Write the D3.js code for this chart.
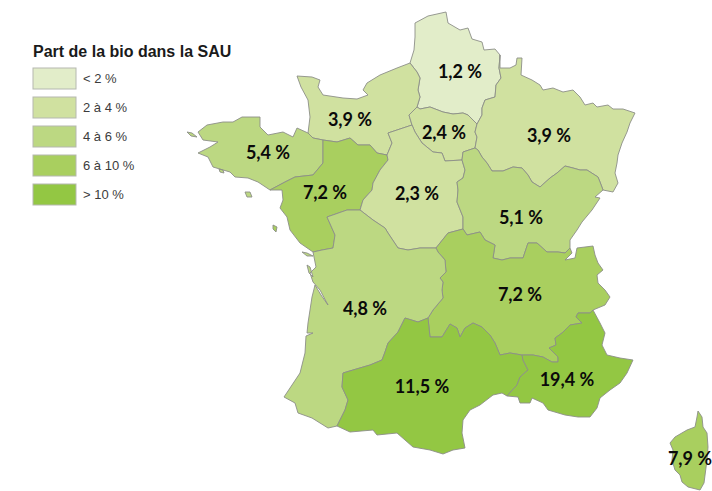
<!DOCTYPE html>
<html>
<head>
<meta charset="utf-8">
<script src="https://d3js.org/d3.v7.min.js"></script>
<style>
  html, body { margin: 0; padding: 0; background: #fff; overflow: hidden; }
</style>
</head>
<body>
<script>
// data
var legendTitle = "Part de la bio dans la SAU";
var legendLabels = ["< 2 %", "2 à 4 %", "4 à 6 %", "6 à 10 %", "> 10 %"];
var classBreaks = [2, 4, 6, 10];
var classColors = ["#e2edc9", "#d0e1a0", "#bcd882", "#a9cf5f", "#93c743"];

var regions = ["Hauts-de-France", "Normandie", "Ile-de-France", "Grand Est", "Bretagne", "Pays de la Loire",
               "Centre-Val de Loire", "Bourgogne-Franche-Comte", "Auvergne-Rhone-Alpes", "Nouvelle-Aquitaine",
               "Occitanie", "PACA", "Corse"];
var shares = [1.2, 3.9, 2.4, 3.9, 5.4, 7.2, 2.3, 5.1, 7.2, 4.8, 11.5, 19.4, 7.9];
// label anchors, in map units
var anchors = [[460, 72], [350, 120], [444, 133], [549, 136], [268, 153], [325, 193], [417, 194],
               [521, 218], [520, 295], [365, 309], [422, 387], [567, 380], [690, 459]];

// borders, in map units, shared between neighbours
var arcs = {
  hdfCoast: [[410,63],[414,50],[415,37],[415,23],[428,16],[446,12],[448,23],[460,30],[468,28],[472,39],[482,42],[484,50],[495,49],[500,55]],
  hdfGe: [[500,55],[499,68],[501,78],[496,85],[495,97],[485,100],[482,108],[482,115],[477,124]],
  hdfIdf: [[477,124],[468,115],[463,113],[453,114],[443,112],[430,107],[420,109],[417,107]],
  hdfNor: [[417,107],[420,97],[418,90],[420,78],[417,72],[410,63]],
  geNorth: [[500,55],[500,68],[510,68],[516,65],[517,58],[522,58],[521,75],[532,80],[540,85],[543,90],[553,88],[563,92],[573,90],[580,97],[585,105],[593,103],[597,107],[608,105],[613,109],[623,109],[635,113],[630,123],[627,132],[622,143],[618,155],[617,163],[615,173],[618,183],[613,192],[603,190]],
  geBfc: [[603,190],[600,182],[598,177],[587,170],[580,170],[573,168],[565,166],[557,173],[550,178],[540,187],[532,182],[528,175],[522,168],[513,167],[503,171],[492,171],[487,163],[482,157],[478,150],[475,148]],
  geIdf: [[475,148],[477,137],[475,132],[477,124]],
  idfBfc: [[475,148],[463,152],[462,160]],
  idfCvl: [[462,160],[445,161],[442,153],[433,152],[422,143],[415,132],[412,125]],
  idfNor: [[412,125],[409,115],[417,107]],
  norCoast: [[410,63],[397,68],[380,75],[367,83],[363,90],[368,95],[357,99],[343,98],[323,95],[318,87],[320,80],[312,77],[297,76],[301,87],[308,100],[310,117],[308,133]],
  norBre: [[308,133],[313,138],[323,140]],
  norPdl: [[323,140],[337,142],[350,138],[358,145],[370,145],[377,153],[387,155]],
  norCvl: [[387,155],[392,143],[388,133],[412,125]],
  breCoast: [[308,133],[297,128],[293,137],[283,132],[268,135],[260,127],[260,117],[252,117],[242,117],[233,122],[223,122],[207,125],[198,132],[203,140],[218,142],[210,147],[198,153],[208,157],[213,167],[230,172],[235,177],[248,178],[258,182],[270,190]],
  brePdl: [[270,190],[285,182],[295,177],[313,175],[323,163],[323,140]],
  pdlCoast: [[270,190],[282,190],[283,200],[280,208],[287,217],[290,230],[300,243],[313,252]],
  pdlNa: [[313,252],[322,250],[333,248],[335,235],[327,217],[347,210],[360,210]],
  pdlCvl: [[360,210],[363,200],[372,190],[373,183],[380,170],[388,160],[387,155]],
  cvlBfc: [[462,160],[465,170],[463,178],[457,182],[458,190],[457,202],[463,217],[463,229]],
  cvlAra: [[463,229],[448,233],[436,248]],
  cvlNa: [[436,248],[420,248],[408,250],[398,248],[388,233],[385,228],[373,220],[360,210]],
  bfcEast: [[603,190],[595,197],[600,198],[592,210],[582,222],[577,230],[570,240],[570,248]],
  bfcAra: [[570,248],[565,253],[558,252],[547,252],[537,243],[528,243],[523,258],[510,258],[502,260],[493,258],[495,245],[485,240],[480,232],[467,235],[463,229]],
  araEast: [[570,248],[572,253],[565,260],[575,258],[577,248],[593,246],[595,255],[598,263],[603,270],[597,275],[598,283],[605,290],[610,297],[605,305],[593,310]],
  araPaca: [[593,310],[590,313],[578,313],[576,317],[582,323],[570,325],[562,333],[555,338],[556,345],[549,348],[558,357],[558,362],[552,362],[543,357],[533,355],[522,355]],
  araOcc: [[522,355],[510,353],[500,355],[495,343],[490,335],[482,327],[473,323],[465,328],[460,337],[457,328],[450,324],[442,337],[430,337],[428,318]],
  araNa: [[428,318],[433,310],[443,298],[442,290],[443,282],[440,278],[446,272],[445,260],[438,252],[436,248]],
  naCoast: [[313,252],[316,267],[310,273],[313,282],[320,290],[328,305],[321,295],[315,285],[312,297],[308,323],[307,333],[313,333],[306,336],[305,353],[300,373],[284,397],[295,403],[298,413],[312,418],[328,428],[337,426]],
  naOcc: [[337,426],[345,410],[348,400],[342,387],[343,373],[353,370],[370,365],[382,360],[385,352],[388,343],[398,332],[405,318],[418,322],[428,318]],
  occCoast: [[337,426],[350,432],[373,430],[377,435],[397,433],[413,447],[430,450],[443,454],[453,450],[465,448],[462,433],[463,420],[470,410],[480,405],[493,395],[502,393],[507,396]],
  occPaca: [[507,396],[517,385],[520,377],[528,370],[523,360],[522,355]],
  pacaCoast: [[507,396],[518,397],[520,403],[530,403],[532,398],[543,403],[548,410],[565,415],[578,417],[590,417],[597,408],[600,398],[610,390],[620,383],[627,373],[633,360],[620,358],[607,355],[602,345],[605,333],[600,323],[593,310]],
  corse: [[698,411],[702,417],[703,427],[707,433],[708,447],[707,460],[704,483],[700,490],[688,487],[682,482],[680,475],[675,470],[672,460],[673,450],[670,443],[675,437],[687,430],[695,427],[697,417],[698,411]]
};

// a leading minus walks the arc backwards
var rings = [
  ["hdfCoast", "hdfGe", "hdfIdf", "hdfNor"],
  ["norCoast", "norBre", "norPdl", "norCvl", "idfNor", "hdfNor"],
  ["-hdfIdf", "-geIdf", "idfBfc", "idfCvl", "idfNor"],
  ["geNorth", "geBfc", "geIdf", "-hdfGe"],
  ["breCoast", "brePdl", "-norBre"],
  ["pdlCoast", "pdlNa", "pdlCvl", "-norPdl", "-brePdl"],
  ["norCvl", "-idfCvl", "cvlBfc", "cvlAra", "cvlNa", "pdlCvl"],
  ["-idfBfc", "-geBfc", "bfcEast", "bfcAra", "-cvlBfc"],
  ["-bfcAra", "araEast", "araPaca", "araOcc", "araNa", "-cvlAra"],
  ["naCoast", "naOcc", "araNa", "cvlNa", "-pdlNa"],
  ["occCoast", "occPaca", "araOcc", "-naOcc"],
  ["pacaCoast", "araPaca", "-occPaca"],
  ["corse"]
];

// small islands: [region index, outline]
var islands = [
  [4, [[187,132],[192,133],[197,137],[191,136]]],
  [4, [[245,192],[250,192],[252,197],[247,197]]],
  [4, [[219,169],[223,170],[224,173],[220,172]]],
  [5, [[273,225],[277,227],[276,232],[273,229]]],
  [9, [[302,252],[307,253],[313,256],[307,256]]],
  [9, [[307,265],[310,267],[313,277],[309,273]]]
];

var width = 712, height = 491;

var svg = d3.select("body")
  .append("svg")
    .attr("width", width)
    .attr("height", height)
    .style("display", "block");

var color = d3.scaleThreshold().domain(classBreaks).range(classColors);

function ring(names) {
  var pts = [];
  names.forEach(function(n) {
    var a = n[0] === "-" ? arcs[n.slice(1)].slice().reverse() : arcs[n];
    pts = pts.concat(a);
  });
  pts.push(pts[0]);
  return pts;
}

var features = regions.map(function(name, i) {
  var polys = [[ring(rings[i])]];
  islands.forEach(function(d) {
    if (d[0] === i) polys.push([d[1].concat([d[1][0]])]);
  });
  return {
    type: "Feature",
    properties: {name: name, share: shares[i], anchor: anchors[i]},
    geometry: {type: "MultiPolygon", coordinates: polys}
  };
});

var projection = d3.geoIdentity();
var path = d3.geoPath(projection);

svg.append("g")
  .selectAll("path")
  .data(features)
  .enter().append("path")
    .attr("d", path)
    .attr("fill", function(d) { return color(d.properties.share); })
    .attr("stroke", "#8c8f88")
    .attr("stroke-width", 0.9)
    .attr("stroke-linejoin", "round");

function shareText(v) { return String(v).replace(".", ",") + " %"; }

svg.append("g")
  .selectAll("text")
  .data(features)
  .enter().append("text")
    .attr("transform", function(d) { return "translate(" + projection(d.properties.anchor) + ")"; })
    .attr("text-anchor", "middle")
    .attr("dy", "0.35em")
    .style("font", "bold 18px Lato, sans-serif")
    .attr("fill", "#0a0a0a")
    .text(function(d) { return shareText(d.properties.share); });

// legend
var legend = svg.append("g").attr("transform", "translate(33,0)");

legend.append("text")
    .attr("y", 57)
    .style("font", "bold 16px 'Liberation Sans', Arial, sans-serif")
    .attr("fill", "#1a1a1a")
    .text(legendTitle);

var rowY = d3.scalePoint().domain(legendLabels).range([68, 184]);

var row = legend.selectAll(".row")
  .data(legendLabels)
  .enter().append("g")
    .attr("class", "row")
    .attr("transform", function(d) { return "translate(0," + rowY(d) + ")"; });

row.append("rect")
    .attr("width", 43)
    .attr("height", 21)
    .attr("fill", function(d, i) { return classColors[i]; })
    .attr("stroke", "#b5b8b0")
    .attr("stroke-width", 1);

row.append("text")
    .attr("x", 50)
    .attr("y", 10.5)
    .attr("dy", "0.35em")
    .style("font", "13px 'Liberation Sans', Arial, sans-serif")
    .attr("fill", "#3c3c3c")
    .text(function(d) { return d; });
</script>
</body>
</html>
